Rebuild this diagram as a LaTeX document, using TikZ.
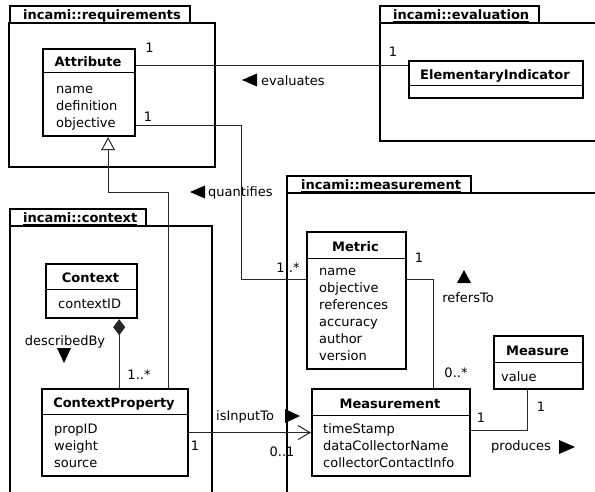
\documentclass[tikz,border=0pt]{standalone}
\usepackage{fontspec}
\setmainfont{DejaVu Sans}
\usetikzlibrary{arrows.meta}
\begin{document}
\begin{tikzpicture}[x=1pt,y=-1pt,
  pkg/.style={draw=black,line width=2pt},
  cls/.style={draw=black,fill=white,line width=2.2pt,inner sep=0pt,anchor=north west},
  sepl/.style={draw=black,line width=1pt},
  ctitle/.style={font=\fontsize{13}{16}\selectfont\bfseries,anchor=base,inner sep=0pt},
  cattr/.style={font=\fontsize{13}{16}\selectfont,anchor=base west,inner sep=0pt},
  lbl/.style={font=\fontsize{13}{16}\selectfont,inner sep=0pt},
  ptitle/.style={font=\fontsize{13}{16}\selectfont\bfseries,anchor=base west,inner sep=0pt},
  conn/.style={draw=black!85,line width=1pt},
  tri/.style={fill=black}
]
\fill[white] (0,0) rectangle (595,492);
\useasboundingbox (0,0) rectangle (595,492);
\clip (0,0) rectangle (595,492);

% ---------- packages ----------
\draw[pkg] (10,23) -- (10,6) -- (190,6) -- (190,23);
\draw[pkg] (9,23) rectangle (215,167);
\node[ptitle] (preq) at (23,19.5) {\underline{incami::requirements}};

\draw[pkg] (380,23) -- (380,6) -- (539,6) -- (539,23);
\draw[pkg] (380,23) rectangle (620,141);
\node[ptitle] (peval) at (393,19.5) {\underline{incami::evaluation}};

\draw[pkg] (10,226) -- (10,209) -- (146,209) -- (146,226);
\draw[pkg] (10,226) rectangle (212,520);
\node[ptitle] (pctx) at (23,222.5) {\underline{incami::context}};

\draw[pkg] (287,193) -- (287,176) -- (471,176) -- (471,193);
\draw[pkg] (287,193) rectangle (620,520);
\node[ptitle] (pmeas) at (301,189.5) {\underline{incami::measurement}};

% ---------- classes ----------
\node[cls,minimum width=92pt,minimum height=87pt] (attr) at (42,48) {};
\draw[sepl] ([yshift=-25pt]attr.north west) -- ([yshift=-25pt]attr.north east);
\node[ctitle] (attr-t) at (88,66.5) {Attribute};
\foreach \t [count=\i] in {name,definition,objective}
  \node[cattr] (attr-\i) at (56,{93.5+17*(\i-1)}) {\t};

\node[cls,minimum width=174pt,minimum height=37pt] (ei) at (408,60) {};
\draw[sepl] ([yshift=-26pt]ei.north west) -- ([yshift=-26pt]ei.north east);
\node[ctitle] (ei-t) at (495,79.5) {ElementaryIndicator};

\node[cls,minimum width=91pt,minimum height=54pt] (ctx) at (45,263) {};
\draw[sepl] ([yshift=-26pt]ctx.north west) -- ([yshift=-26pt]ctx.north east);
\node[ctitle] (ctx-t) at (90.5,282.5) {Context};
\node[cattr] (ctx-1) at (58,308.5) {contextID};

\node[cls,minimum width=146pt,minimum height=87pt] (cprop) at (41,388) {};
\draw[sepl] ([yshift=-26pt]cprop.north west) -- ([yshift=-26pt]cprop.north east);
\node[ctitle] (cprop-t) at (114,407.5) {ContextProperty};
\foreach \t [count=\i] in {propID,weight,source}
  \node[cattr] (cprop-\i) at (54,{433+17*(\i-1)}) {\t};

\node[cls,minimum width=99pt,minimum height=137pt] (metric) at (306,231) {};
\draw[sepl] ([yshift=-27pt]metric.north west) -- ([yshift=-27pt]metric.north east);
\node[ctitle] (metric-t) at (355.5,251.5) {Metric};
\foreach \t [count=\i] in {name,objective,references,accuracy,author,version}
  \node[cattr] (metric-\i) at (319,{275+17*(\i-1)}) {\t};

\node[cls,minimum width=89pt,minimum height=53pt] (measure) at (493,335) {};
\draw[sepl] ([yshift=-27pt]measure.north west) -- ([yshift=-27pt]measure.north east);
\node[ctitle] (measure-t) at (537.5,355.5) {Measure};
\node[cattr] (measure-1) at (501,381) {value};

\node[cls,minimum width=158pt,minimum height=87pt] (ment) at (311,388) {};
\draw[sepl] ([yshift=-27pt]ment.north west) -- ([yshift=-27pt]ment.north east);
\node[ctitle] (ment-t) at (390,408.5) {Measurement};
\foreach \t [count=\i] in {timeStamp,dataCollectorName,collectorContactInfo}
  \node[cattr] (ment-\i) at (323,{433+17*(\i-1)}) {\t};

% ---------- connectors ----------
\coordinate (ev1) at ([yshift=-18pt]attr.north east);
\draw[conn] (ev1) -- (ev1 -| ei.west);

\coordinate (q1) at ([yshift=-78pt]attr.north east);
\coordinate (q2) at ([yshift=-48pt]metric.north west);
\draw[conn] (q1) -- ++(105,0) |- (q2);

\coordinate (g1) at ([xshift=-21pt]cprop.north east);
\coordinate (g2) at ([xshift=19pt]attr.south);
\draw[conn,-{Triangle[open,length=13pt,width=14pt,fill=white]}] (g1) -- ++(0,-195) -| (g2);

\coordinate (c1) at ([xshift=-19pt]ctx.south east);
\draw[conn,-{Diamond[length=16pt,width=12pt]}] (c1 |- cprop.north) -- (c1);

\draw[conn,-{Straight Barb[length=12pt,width=14pt]}] (cprop.east) -- (ment.west);

\coordinate (r1) at ([yshift=-48pt]metric.north east);
\coordinate (r2) at ([xshift=122pt]ment.north west);
\draw[conn] (r1) -| (r2);

\coordinate (p1) at ([yshift=2pt]ment.east);
\coordinate (p2) at ([xshift=-11.5pt]measure.south);
\draw[conn] (p1) -| (p2);

% ---------- labels ----------
\node[lbl] (m1) at (149.5,48) {1};
\node[lbl] (m2) at (393,52) {1};
\node[lbl] (m3) at (148,117) {1};
\fill[tri] (242,80) -- (257,73.5) -- (257,86.5) -- cycle;
\node[lbl,anchor=west] (levaluates) at (261,81) {evaluates};
\fill[tri] (190,192) -- (205,185.5) -- (205,198.5) -- cycle;
\node[lbl,anchor=west] (lquant) at (208,193) {quantifies};
\node[lbl] (m4) at (288,268) {1..*};
\node[lbl] (ldesc) at (65,342) {describedBy};
\fill[tri] (64,363) -- (57,348) -- (71,348) -- cycle;
\node[lbl] (m5) at (139,375) {1..*};
\node[lbl,anchor=west] (linput) at (216,417) {isInputTo};
\fill[tri] (300,416) -- (285,409) -- (285,423) -- cycle;
\node[lbl] (m6) at (195,446) {1};
\node[lbl] (m7) at (282,452) {0..1};
\node[lbl] (m8) at (419,258) {1};
\fill[tri] (464,270) -- (457,283) -- (471,283) -- cycle;
\node[lbl] (lrefers) at (468,298) {refersTo};
\node[lbl] (m9) at (456,373) {0..*};
\node[lbl] (m10) at (481,418) {1};
\node[lbl] (m11) at (541,407) {1};
\node[lbl,anchor=west] (lproduces) at (491,447) {produces};
\fill[tri] (575,447) -- (559,440) -- (559,454) -- cycle;
\end{tikzpicture}
\end{document}
